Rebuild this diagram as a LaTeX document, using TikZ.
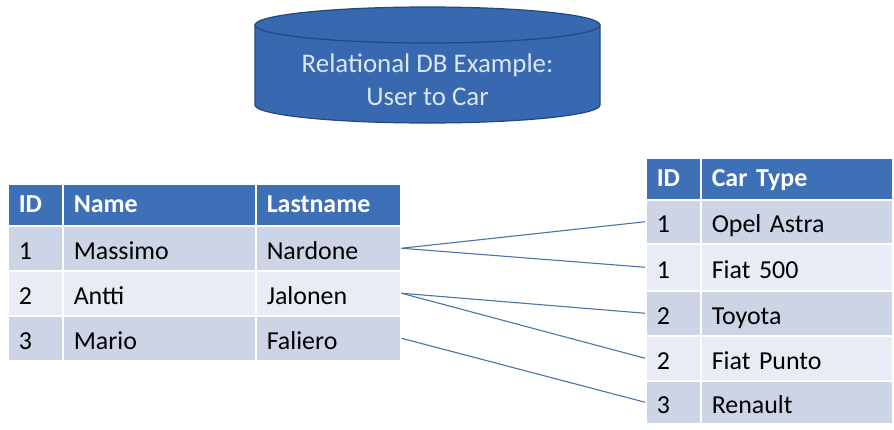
\documentclass[tikz,border=0pt]{standalone}
\usepackage{fontspec}
\setmainfont{Carlito}
\usepackage{tikz}

\definecolor{dbblue}{RGB}{56,104,176}
\definecolor{dbedge}{RGB}{36,72,128}
\definecolor{dbtext}{RGB}{220,230,242}
\definecolor{headblue}{RGB}{62,112,184}
\definecolor{bandA}{RGB}{205,212,230}
\definecolor{bandB}{RGB}{233,236,245}
\definecolor{linkblue}{RGB}{74,116,168}

\tikzset{
  cell/.style={draw=white, line width=1.5bp, anchor=north west, inner xsep=11bp, inner ysep=0pt,
    align=left, text height=22bp, text depth=0bp, minimum height=#1, font=\fontsize{26}{31}\selectfont},
  head/.style={cell=42bp, fill=headblue, text=white, text height=17bp, text depth=2bp,
    font=\fontsize{26}{31}\selectfont\bfseries},
  link/.style={draw=linkblue, line width=1.1bp}
}

\begin{document}
\begin{tikzpicture}[x=1bp,y=1bp]
\useasboundingbox (0,0) rectangle (894,429);

% database drum
\filldraw[fill=dbblue, draw=dbedge, line width=1.2bp] (255,404) -- (255,324)
  arc[start angle=180, end angle=360, x radius=172.5bp, y radius=18bp] -- (600,404) -- cycle;
\filldraw[fill=dbblue, draw=dbedge, line width=1.2bp] (427.5,404) ellipse[x radius=172.5bp, y radius=18bp];
\node[text=dbtext, align=center, font=\fontsize{27}{33}\selectfont] (title) at (427.5,349)
  {Relational DB Example:\\User to Car};

% users
\node[head, text width=33bp] (uhid) at (7,246) {ID};
\node[head, text width=171bp] (uhname) at (62,246) {Name};
\node[head, text width=123bp] (uhlast) at (255,246) {Lastname};
\foreach \y/\id/\first/\last/\shade [count=\r] in {204/1/Massimo/Nardone/bandA, 159/2/Antti/Jalonen/bandB, 114/3/Mario/Faliero/bandA}{
  \node[cell=45bp, fill=\shade, text width=33bp] (uid\r) at (7,\y) {\id};
  \node[cell=45bp, fill=\shade, text width=171bp] (uname\r) at (62,\y) {\first};
  \node[cell=45bp, fill=\shade, text width=123bp] (ulast\r) at (255,\y) {\last};
}

% cars
\node[head, text width=33bp] (chid) at (645,272) {ID};
\node[head, text width=170bp] (chtype) at (700,272) {Car Type};
\foreach \y/\h/\id/\car/\shade [count=\r] in {230/44/1/Opel Astra/bandA, 186/47/1/Fiat 500/bandB, 139/45/2/Toyota/bandA, 94/45/2/Fiat Punto/bandB, 49/43/3/Renault/bandA}{
  \node[cell=\h bp, fill=\shade, text width=33bp] (cid\r) at (645,\y) {\id};
  \node[cell=\h bp, fill=\shade, text width=170bp] (ctype\r) at (700,\y) {\car};
}

\draw[link] (ulast1.east) -- (cid1.west);
\draw[link] (ulast1.east) -- (cid2.west);
\draw[link] (ulast2.east) -- (cid3.west);
\draw[link] (ulast2.east) -- (cid4.west);
\draw[link] (ulast3.east) -- (cid5.west);

\end{tikzpicture}
\end{document}
